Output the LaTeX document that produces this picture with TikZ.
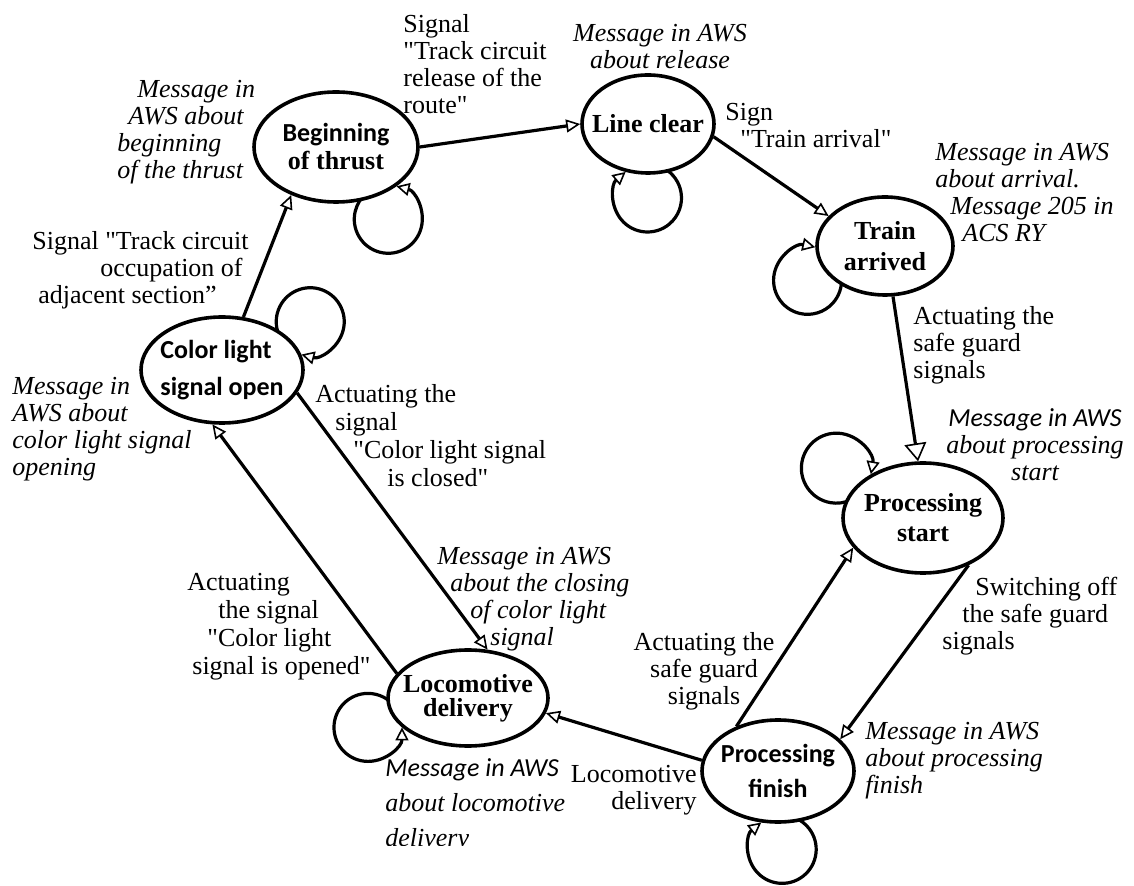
\documentclass[tikz,border=0pt]{standalone}
\usepackage{fontspec}
\setmainfont{Liberation Serif}[Ligatures=TeXOff]
\newfontfamily\calibri{Carlito}
\usetikzlibrary{arrows.meta,shapes.geometric,backgrounds}

\begin{document}
\begin{tikzpicture}[x=0.5pt,y=0.5pt,
	state/.style={draw,ellipse,line width=1.8pt,fill=white,inner sep=-6pt,align=center,font=\bfseries\fontsize{13}{15}\selectfont},
	trans/.style={line width=1.6pt,-{Triangle[open,length=7pt,width=6.5pt,line width=0.8pt]}},
	bigtrans/.style={line width=1.6pt,-{Triangle[open,length=9pt,width=11pt,line width=0.8pt]}},
	selfloop/.style={line width=1.6pt,{Triangle[open,length=6.5pt,width=6.5pt,line width=0.8pt]}-},
	msg/.style={inner sep=0pt,align=left,font=\itshape\fontsize{13}{13.5}\selectfont},
	cond/.style={inner sep=0pt,align=left,font=\fontsize{13}{13.5}\selectfont}]
				%\draw [help lines] (0,0) grid (1134,-886);
				\useasboundingbox (0,0) rectangle (1134,-886);
				% states
				\node[state,minimum width=82pt,minimum height=55pt,font=\bfseries\fontsize{13}{14}\selectfont] (bt) at (336,-147) {{\calibri Beginning}\\of thrust};
				\node[state,minimum width=66pt,minimum height=49pt] (lc) at (648,-124) {Line clear};
				\node[state,minimum width=68pt,minimum height=49pt,font=\bfseries\fontsize{13}{15.5}\selectfont] (ta) at (885,-246) {Train\\arrived};
				\node[state,minimum width=81pt,minimum height=53pt,align=left,font=\bfseries\calibri\fontsize{13}{18.5}\selectfont] (cl) at (222,-370) {Color light\\signal open};
				\node[state,minimum width=80pt,minimum height=55pt] (ps) at (923,-518) {Processing\\start};
				\node[state,minimum width=80pt,minimum height=48pt,font=\bfseries\fontsize{13}{12}\selectfont] (ld) at (468,-698) {Locomotive\\delivery};
				\node[state,minimum width=76pt,minimum height=51pt,font=\bfseries\calibri\fontsize{13}{17.5}\selectfont] (pf) at (778,-771) {Processing\\finish};
				% transitions
				\draw[trans] (cl.68) -- (bt.-133);
				\draw[trans] (bt.0) -- (lc.180);
				\draw[trans] (lc.-11) -- (ta.152);
				\draw[bigtrans] (ta.-81) -- (ps.95);
				\draw[trans] (ps.-46) -- (pf.27);
				\draw[trans] (pf.133) -- (ps.-157);
				\draw[trans] (pf.172) -- (ld.-11);
				\draw[trans] (ld.161) -- (cl.-100);
				\draw[trans] (cl.-17) -- (ld.68);
				% self loops
				\begin{pgfonlayer}{background}
				\draw[selfloop] (bt.-33) arc[start angle=76,end angle=-230,radius=17pt];
				\draw[selfloop] (lc.-115) arc[start angle=130,end angle=420,radius=17pt];
				\draw[selfloop] (ta.181) arc[start angle=77,end angle=365,radius=17pt];
				\draw[selfloop] (cl.11) arc[start angle=-105,end angle=205,radius=17pt];
				\draw[selfloop] (ps.140) arc[start angle=-10,end angle=295,radius=17.5pt];
				\draw[selfloop] (ld.-156) arc[start angle=360,end angle=35,radius=17pt];
				\draw[selfloop] (pf.-108) arc[start angle=128,end angle=425,radius=17pt];
				\end{pgfonlayer}
				% messages and signals
				\node[msg,anchor=north west] (msgbt) at (117,-80) {\hspace*{10pt}Message in\\\hspace*{5.5pt}AWS about\\beginning\\of the thrust};
				\node[cond,anchor=north west] (sigbt) at (403,-14) {Signal\\"Track circuit\\release of the\\route"};
				\node[msg,anchor=north,align=center] (msglc) at (660,-24) {Message in AWS\\about release};
				\node[cond,anchor=north west] (siglc) at (725,-103) {Sign\\\hspace*{7.5pt}"Train arrival"};
				\node[msg,anchor=north west] (msgta) at (935,-143) {Message in AWS\\about arrival.\\\hspace*{7.5pt}Message 205 in\\\hspace*{13.5pt}ACS RY};
				\node[cond,anchor=north west] (sigta) at (913,-306) {Actuating the\\safe guard\\signals};
				\node[msg,anchor=north,align=center] (msgps) at (1035,-408) {{\calibri Message in AWS}\\about processing\\start};
				\node[cond,anchor=north west] (sigps) at (942,-577) {\hspace*{16.5pt}Switching off\\\hspace*{10pt}the safe guard\\signals};
				\node[msg,anchor=north west] (msgpf) at (865,-722) {Message in AWS\\about processing\\finish};
				\node[cond,anchor=north,align=center] (sigpf) at (704,-632) {Actuating the\\safe guard\\signals};
				\node[cond,anchor=north east,align=right] (locpf) at (697,-765) {Locomotive\\delivery};
				\begin{scope}
				\clip (380,-740) rectangle (600,-845);
				\node[msg,anchor=north west,font=\itshape\fontsize{13}{17.5}\selectfont] (msgld) at (385,-758) {{\calibri Message in AWS}\\about locomotive\\delivery};
				\end{scope}
				\node[cond,anchor=north west,font=\fontsize{13}{14}\selectfont] (sigld) at (187,-573) {Actuating\\\hspace*{15.5pt}the signal\\\hspace*{10pt}"Color light\\\hspace*{2.5pt}signal is opened"};
				\node[msg,anchor=north west] (msgcl) at (437,-547) {Message in AWS\\\hspace*{6.5pt}about the closing\\\hspace*{16.5pt}of color light\\\hspace*{26.5pt}signal};
				\node[cond,anchor=north west,font=\fontsize{13}{14}\selectfont] (sigcl) at (315,-384) {Actuating the\\\hspace*{10pt}signal\\\hspace*{19pt}"Color light signal\\\hspace*{36pt}is closed"};
				\node[msg,anchor=north west] (msgop) at (12,-377) {Message in\\AWS about\\color light signal\\opening};
				\node[cond,anchor=north west] (sigop) at (32,-231) {Signal "Track circuit\\\hspace*{34pt}occupation of\\\hspace*{3pt}adjacent section”};
\end{tikzpicture}
\end{document}
